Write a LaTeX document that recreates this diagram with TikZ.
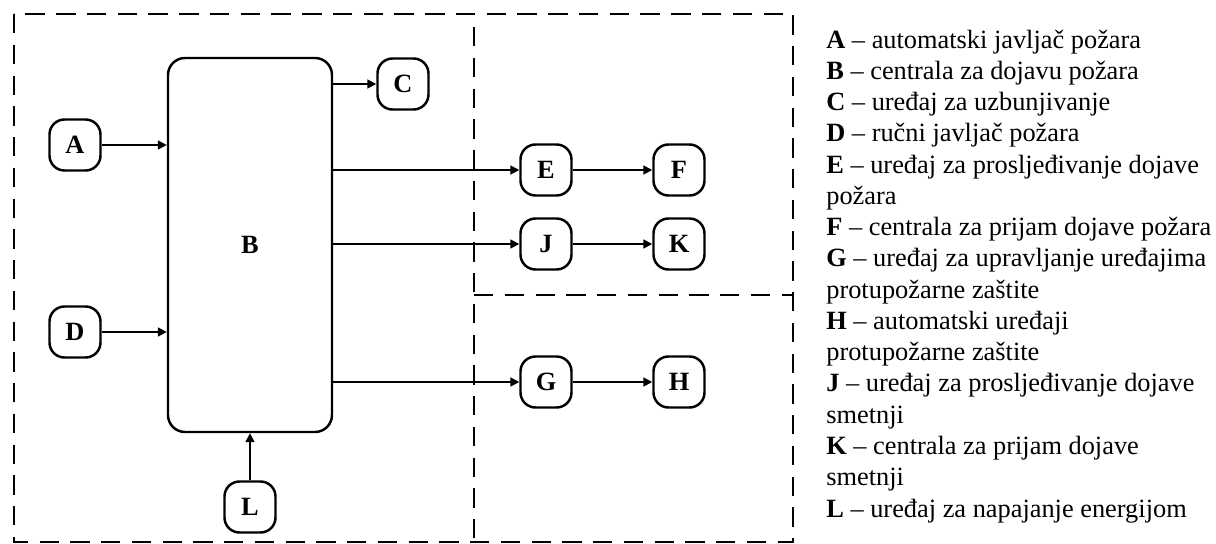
\documentclass[tikz,border=0pt]{standalone}
\usepackage{fontspec}
\setmainfont{Liberation Serif}
\usetikzlibrary{arrows.meta}
\tikzset{dev/.style={draw,rounded corners=0.3cm,line width=1.4pt,minimum width=1.02cm,minimum height=1.02cm,inner sep=0pt,font=\fontsize{15}{18}\selectfont\bfseries},
 centre/.style={dev,minimum width=3.28cm,minimum height=7.48cm,rounded corners=0.34cm},
 panel/.style={dash pattern=on 11pt off 6.5pt,line width=1.5pt},
 link/.style={->,line width=1pt},
 legline/.style={anchor=base west,inner sep=0pt},
 >={Triangle[length=5pt,width=5pt]}
 }

\begin{document}
\begin{tikzpicture}[font=\fontsize{15}{18}\selectfont]
        \useasboundingbox (0,0) rectangle (24.32,-10.88);
        \draw[panel] (0.28,-0.28) rectangle (15.86,-10.84);
        \draw[panel] (9.48,-0.54) -- (9.48,-10.84);
        \draw[panel] (9.48,-5.9) -- (15.86,-5.9);
        \node[centre] (B) at (5,-4.9) {B};
        \node[dev] (A) at (1.5,-2.9) {A};
        \node[dev] (D) at (1.5,-6.64) {D};
        \node[dev] (C) at (8.06,-1.68) {C};
        \node[dev] (E) at (10.92,-3.4) {E};
        \node[dev] (F) at (13.58,-3.4) {F};
        \node[dev] (J) at (10.92,-4.88) {J};
        \node[dev] (K) at (13.58,-4.88) {K};
        \node[dev] (G) at (10.92,-7.64) {G};
        \node[dev] (H) at (13.58,-7.64) {H};
        \node[dev] (L) at (5,-10.14) {L};
        \foreach \n in {A, D} {
            \draw[link] (\n) -- (\n -| B.west);
        }
        \foreach \n in {C, E, J, G} {
            \draw[link] (B.east |- \n) -- (\n);
        }
        \foreach \n/\m in {E/F, J/K, G/H} {
            \draw[link] (\n) -- (\m);
        }
        \draw[link] (L) -- (B);
        \foreach \txt [count=\i] in {
            {\textbf{A} -- automatski javljač požara},
            {\textbf{B} -- centrala za dojavu požara},
            {\textbf{C} -- uređaj za uzbunjivanje},
            {\textbf{D} -- ručni javljač požara},
            {\textbf{E} -- uređaj za prosljeđivanje dojave},
            {požara},
            {\textbf{F} -- centrala za prijam dojave požara},
            {\textbf{G} -- uređaj za upravljanje uređajima},
            {protupožarne zaštite},
            {\textbf{H} -- automatski uređaji},
            {protupožarne zaštite},
            {\textbf{J} -- uređaj za prosljeđivanje dojave},
            {smetnji},
            {\textbf{K} -- centrala za prijam dojave},
            {smetnji},
            {\textbf{L} -- uređaj za napajanje energijom}} {
            \node[legline] (leg\i) at (16.52,{-0.96-0.6254*(\i-1)}) {\txt};
        }
    \end{tikzpicture}
\end{document}
